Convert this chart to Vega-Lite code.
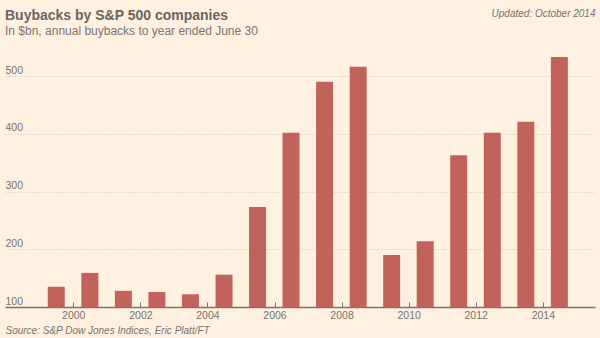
{
  "$schema": "https://vega.github.io/schema/vega-lite/v6.json",
  "width": 590,
  "height": 265,
  "autosize": "none",
  "padding": {"left": 5, "top": 42, "right": 5, "bottom": 31},
  "background": "#fff1e0",
  "config": {
    "view": {"stroke": null},
    "font": "Liberation Sans"
  },
  "title": {
    "text": "Buybacks by S&P 500 companies",
    "subtitle": "In $bn, annual buybacks to year ended June 30",
    "anchor": "start",
    "frame": "group",
    "font": "Liberation Sans",
    "fontSize": 14,
    "fontWeight": "bold",
    "color": "#6b6661",
    "subtitleFont": "Liberation Sans",
    "subtitleFontSize": 12,
    "subtitleColor": "#7a746f",
    "subtitlePadding": 3,
    "offset": -29
  },
  "data": {
    "values": [
      {"date": "1999-06-30", "buybacks": 135},
      {"date": "2000-06-30", "buybacks": 159},
      {"date": "2001-06-30", "buybacks": 128},
      {"date": "2002-06-30", "buybacks": 126},
      {"date": "2003-06-30", "buybacks": 122},
      {"date": "2004-06-30", "buybacks": 156},
      {"date": "2005-06-30", "buybacks": 273},
      {"date": "2006-06-30", "buybacks": 402},
      {"date": "2007-06-30", "buybacks": 490},
      {"date": "2008-06-30", "buybacks": 516},
      {"date": "2009-06-30", "buybacks": 190},
      {"date": "2010-06-30", "buybacks": 214},
      {"date": "2011-06-30", "buybacks": 363},
      {"date": "2012-06-30", "buybacks": 402},
      {"date": "2013-06-30", "buybacks": 421},
      {"date": "2014-06-30", "buybacks": 533}
    ]
  },
  "mark": {"type": "bar", "color": "#c1635a", "width": 17},
  "encoding": {
    "x": {
      "field": "date",
      "type": "temporal",
      "scale": {
        "type": "utc",
        "domain": [
          {"year": 1998, "month": 2, "date": 11, "utc": true},
          {"year": 2015, "month": 5, "date": 30, "utc": true}
        ]
      },
      "axis": {
        "values": [
          {"year": 2000, "utc": true},
          {"year": 2002, "utc": true},
          {"year": 2004, "utc": true},
          {"year": 2006, "utc": true},
          {"year": 2008, "utc": true},
          {"year": 2010, "utc": true},
          {"year": 2012, "utc": true},
          {"year": 2014, "utc": true}
        ],
        "format": "%Y",
        "grid": false,
        "domainColor": "#7d746c",
        "domainWidth": 1.5,
        "tickColor": "#7d746c",
        "tickWidth": 1,
        "tickSize": -5,
        "labelPadding": 8,
        "labelFont": "Liberation Sans",
        "labelFontSize": 10.5,
        "labelColor": "#77716c",
        "title": "Source: S&P Dow Jones Indices, Eric Platt/FT",
        "titleFont": "Liberation Sans",
        "titleFontSize": 10,
        "titleFontStyle": "italic",
        "titleFontWeight": "normal",
        "titleColor": "#77716c",
        "titleAnchor": "start",
        "titleAlign": "left",
        "titlePadding": 5
      }
    },
    "y": {
      "field": "buybacks",
      "type": "quantitative",
      "scale": {"domain": [100, 559], "zero": false, "nice": false},
      "axis": {
        "values": [100, 200, 300, 400, 500],
        "grid": true,
        "gridDash": [1, 2],
        "gridColor": "#d3c5b5",
        "domain": false,
        "ticks": false,
        "tickSize": 0,
        "labelAlign": "left",
        "labelBaseline": "alphabetic",
        "labelPadding": 0,
        "labelOffset": -3,
        "labelFont": "Liberation Sans",
        "labelFontSize": 10.5,
        "labelColor": "#77716c",
        "title": "Updated: October 2014",
        "titleAngle": 0,
        "titleX": 590,
        "titleY": -26,
        "titleAlign": "right",
        "titleBaseline": "alphabetic",
        "titleFont": "Liberation Sans",
        "titleFontSize": 10,
        "titleFontStyle": "italic",
        "titleFontWeight": "normal",
        "titleColor": "#77716c"
      }
    },
    "y2": {"datum": 100}
  }
}
